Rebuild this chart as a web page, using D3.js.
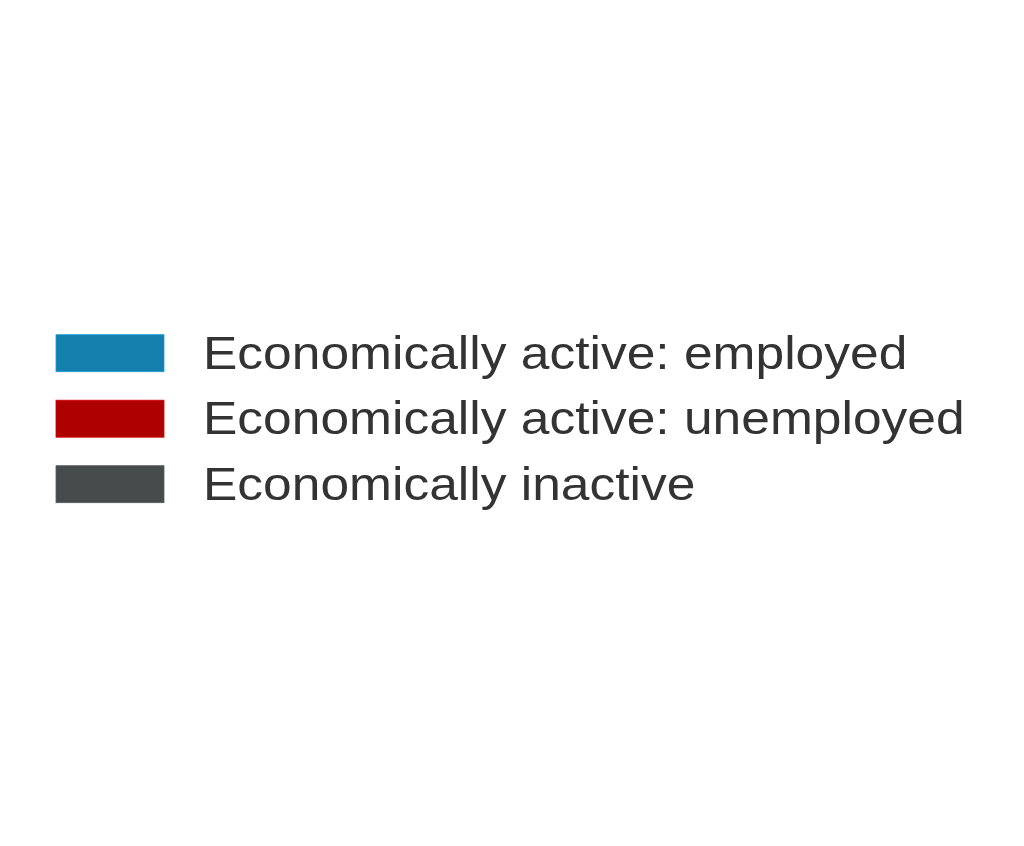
<!DOCTYPE html>
<html>
<head>
<meta charset="utf-8">
<script src="https://cdn.jsdelivr.net/npm/d3@7"></script>
<style>
  html, body { margin: 0; padding: 0; background: #fff; }
</style>
</head>
<body>
<div id="chart"></div>
<script>
const categories = [
  "Economically active: employed",
  "Economically active: unemployed",
  "Economically inactive"
];
const colors = ["#1580ae", "#ae0000", "#464c4b"];

const width = 1024;
const height = 846;

const svg = d3.select("#chart")
  .append("svg")
  .attr("width", width)
  .attr("height", height)
  .attr("viewBox", [0, 0, width, height]);

const color = d3.scaleOrdinal().domain(categories).range(colors);

// legend rows, 65.5px apart, swatches 37px tall
const y = d3.scaleBand()
  .domain(categories)
  .range([334.7, 502.7])
  .paddingInner(0.435)
  .paddingOuter(0);

const row = svg.append("g")
  .selectAll("g")
  .data(categories)
  .join("g")
  .attr("transform", d => `translate(0,${y(d)})`);

row.append("rect")
  .attr("x", 56)
  .attr("width", 108)
  .attr("height", y.bandwidth())
  .attr("fill", d => color(d))
  .attr("stroke", d => d3.color(color(d)).brighter(0.6))
  .attr("stroke-width", 0.8);

// the labels in the source are a bit wider than Liberation Sans
row.append("g")
  .attr("transform", `translate(203,${y.bandwidth() / 2}) scale(1.12,1)`)
  .append("text")
  .attr("dy", "0.34em")
  .attr("fill", "#333")
  .style("font-family", "'Liberation Sans', Arial, sans-serif")
  .style("font-size", "46px")
  .text(d => d);
</script>
</body>
</html>
